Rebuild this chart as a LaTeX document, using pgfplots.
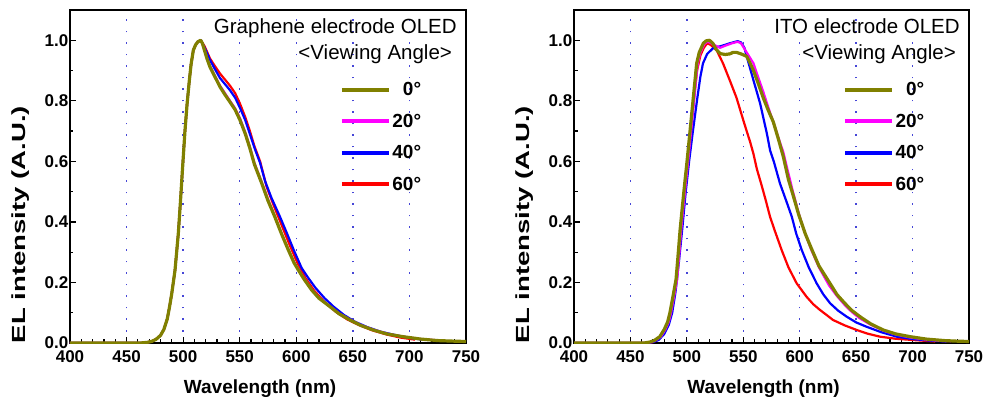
\documentclass[border=0pt]{standalone}
\usepackage{pgfplots}
\pgfplotsset{compat=1.18}
\usepackage{graphicx}
\usepackage{fontspec}
\setmainfont{Liberation Sans}

\definecolor{cOlive}{RGB}{128,128,0}
\definecolor{cMag}{RGB}{255,0,255}
\definecolor{cBlue}{RGB}{0,0,255}
\definecolor{cRed}{RGB}{255,0,0}
\definecolor{cGrid}{RGB}{70,70,215}

\pgfplotsset{
  elstyle/.style={
    scale only axis, height=333pt,
    xmin=400, xmax=750, ymin=0, ymax=1.1,
    xtick={400,450,500,550,600,650,700,750},
    ytick={0,0.2,0.4,0.6,0.8,1.0},
    minor x tick num=4, minor y tick num=1,
    tick align=inside, tick pos=left,
    major tick length=6pt, minor tick length=3.5pt,
    every tick/.style={black, line width=1.2pt},
    axis line style={black, line width=1.6pt},
    xmajorgrids=true,
    major x grid style={cGrid, line width=1.5pt, dash pattern=on 1.5pt off 10pt},
    /pgf/number format/assume math mode=true,
    ticklabel style={font=\fontsize{17}{20}\selectfont\bfseries},
    yticklabel style={inner xsep=1.5pt, /pgf/number format/fixed, /pgf/number format/fixed zerofill, /pgf/number format/precision=1},
    xticklabel style={yshift=-4.5pt},
    xlabel={Wavelength (nm)},
    xlabel style={at={(rel axis cs:0.48,0)}, anchor=base, yshift=-50pt, font=\fontsize{19}{22}\selectfont\bfseries},
    ylabel={\scalebox{1.45}[1]{EL intensity (A.U.)}},
    ylabel style={at={(rel axis cs:-0.126,0.356)}, anchor=center, font=\fontsize{19}{22}\selectfont\bfseries},
    legend image code/.code={\draw[#1] (0pt,0pt) -- (47pt,0pt);},
    legend style={draw=none, fill=none, at={(rel axis cs:0.891,0.787)}, anchor=north east,
      inner sep=0pt, row sep=13.7pt, font=\fontsize{19}{22}\selectfont\bfseries,
      nodes={inner sep=1.5pt}},
    legend cell align=right,
    every axis plot/.append style={line join=round},
  }
}

\begin{document}
\begin{tikzpicture}
\useasboundingbox (-70pt,-58pt) rectangle (917pt,343pt);

% ---------------- Graphene electrode OLED ----------------
\begin{axis}[elstyle, width=396pt, at={(0pt,0pt)}, anchor=south west]
\addlegendimage{cOlive, line width=4pt}\addlegendentry{0°}
\addlegendimage{cMag, line width=4pt}\addlegendentry{20°}
\addlegendimage{cBlue, line width=4pt}\addlegendentry{40°}
\addlegendimage{cRed, line width=4pt}\addlegendentry{60°}

% 60 deg
\addplot[cRed, line width=2.2pt, forget plot] coordinates {
(400,0) (462,0) (468,0.002) (472,0.005) (476,0.012) (480,0.025) (483,0.045) (486,0.08) (488,0.12)
(490,0.165) (492.8,0.24) (495.7,0.36) (497.5,0.46) (499,0.55) (501.6,0.70) (503.5,0.79) (505.5,0.868)
(507,0.92) (509,0.967) (511,0.985) (513,0.995) (515.5,1.0) (519,0.98) (523.7,0.94) (528,0.915)
(532.6,0.89) (537,0.87) (541.4,0.85) (546,0.825) (550.3,0.79) (555,0.745) (559,0.70) (563,0.65)
(568,0.60) (573.8,0.516) (580,0.455) (587,0.39) (594,0.325) (601,0.265) (608,0.215) (616,0.172)
(625,0.135) (635,0.103) (645,0.078) (655,0.06) (667,0.042) (680,0.028) (692,0.018) (705,0.011)};
% 40 deg
\addplot[cBlue, line width=2.2pt, forget plot] coordinates {
(400,0) (462,0) (468,0.002) (472,0.005) (476,0.012) (480,0.025) (483,0.045) (486,0.08) (488,0.12)
(490,0.165) (492.8,0.24) (495.7,0.36) (497.5,0.46) (499,0.55) (501.6,0.70) (503.5,0.79) (505.5,0.868)
(507,0.92) (509,0.967) (511,0.985) (513,0.995) (515.5,1.0) (519,0.975) (523.7,0.935) (528,0.905)
(532.6,0.875) (537,0.855) (541.4,0.835) (546,0.81) (550.3,0.776) (555,0.735) (559,0.69) (563,0.645)
(568,0.595) (572.4,0.535) (578,0.48) (585.6,0.417) (592,0.36) (598,0.305) (604.7,0.248) (610,0.218)
(617,0.182) (625,0.148) (633,0.12) (642,0.093) (652,0.07) (663,0.052) (675,0.037) (690,0.024)
(702,0.016) (712,0.011)};
% 20 deg
\addplot[cMag, line width=2.2pt, forget plot] coordinates {
(400,0) (462,0) (468,0.002) (472,0.005) (476,0.012) (480,0.025) (483,0.045) (486,0.08) (488,0.12)
(490,0.165) (492.8,0.24) (495.7,0.36) (497.5,0.46) (499,0.55) (501.6,0.70) (503.5,0.79) (505.5,0.868)
(507,0.92) (509,0.967) (511,0.985) (513,0.995) (515.5,1.0) (517,0.99) (519,0.967) (521,0.943)
(523.7,0.915) (528,0.883) (532.6,0.85) (537,0.825) (541.4,0.80) (546,0.775) (550.3,0.742) (555,0.695)
(559,0.648) (563,0.595) (569.4,0.532) (575,0.475) (581,0.42) (587,0.362) (593,0.31) (598,0.268)
(601.8,0.244) (607,0.213) (613.6,0.177) (620,0.15) (629.8,0.121) (638,0.097) (647.5,0.077)
(657,0.059) (668,0.044) (680,0.031) (694,0.021) (710,0.013) (728,0.008)};
% 0 deg
\addplot[cOlive, line width=3.2pt, forget plot] coordinates {
(400,0) (462,0) (468,0.002) (472,0.005) (476,0.012) (480,0.025) (483,0.045) (486,0.08) (488,0.12)
(490,0.165) (492.8,0.24) (495.7,0.36) (497.5,0.46) (499,0.55) (501.6,0.70) (503.5,0.79) (505.5,0.868)
(507,0.92) (509,0.967) (511,0.985) (513,0.995) (515.5,1.0) (517,0.99) (519,0.965) (521,0.94)
(523.7,0.912) (528,0.88) (532.6,0.846) (537,0.82) (541.4,0.796) (546,0.77) (550.3,0.736) (555,0.69)
(559,0.643) (563,0.59) (569.4,0.528) (575,0.47) (581,0.417) (587,0.36) (593,0.307) (598,0.265)
(601.8,0.241) (607,0.21) (613.6,0.175) (620,0.148) (629.8,0.12) (638,0.096) (647.5,0.076)
(657,0.058) (668,0.043) (680,0.03) (694,0.021) (710,0.013) (725,0.008) (740,0.006) (750,0.005)};

\node[anchor=base east, inner sep=0pt, font=\fontsize{20.5}{24}\selectfont] at (rel axis cs:0.977,0.930) {Graphene electrode OLED};
\node[anchor=base east, inner sep=0pt, font=\fontsize{20.5}{24}\selectfont] at (rel axis cs:0.965,0.850) {<Viewing Angle>};
\end{axis}

% ---------------- ITO electrode OLED ----------------
\begin{axis}[elstyle, width=395pt, at={(504pt,0pt)}, anchor=south west]
\addlegendimage{cOlive, line width=4pt}\addlegendentry{0°}
\addlegendimage{cMag, line width=4pt}\addlegendentry{20°}
\addlegendimage{cBlue, line width=4pt}\addlegendentry{40°}
\addlegendimage{cRed, line width=4pt}\addlegendentry{60°}

% 60 deg
\addplot[cRed, line width=2.2pt, forget plot] coordinates {
(400,0) (466,0) (470,0.003) (475,0.012) (480,0.035) (483,0.06) (486,0.1) (489,0.16) (491,0.22)
(493,0.3) (495,0.38) (498,0.5) (500,0.58) (503,0.69) (506,0.8) (509,0.9) (512,0.95) (515,0.975)
(518,0.99) (521,0.985) (526.4,0.967) (532,0.924) (538,0.868) (544,0.81) (550,0.736) (553,0.70)
(556,0.665) (559,0.625) (562,0.575) (566.3,0.52) (570,0.47) (573.7,0.417) (578,0.37) (584,0.307)
(590,0.25) (597.3,0.197) (606,0.153) (612,0.128) (618,0.109) (624,0.092) (629.5,0.076) (640,0.058)
(650.5,0.043) (660,0.031) (671,0.021) (685,0.014) (700,0.01) (712,0.007) (720,0.005)};
% 40 deg
\addplot[cBlue, line width=2.2pt, forget plot] coordinates {
(400,0) (465,0) (470,0.003) (475,0.01) (480,0.03) (484,0.06) (487,0.1) (490,0.17) (493,0.27)
(496,0.38) (499,0.5) (502,0.6) (505,0.69) (509.3,0.81) (512,0.88) (514.3,0.924) (518,0.955)
(523.6,0.975) (529.4,0.98) (534,0.985) (538,0.99) (542,0.994) (545,0.997) (548,0.993) (551,0.975) (554,0.934)
(559,0.868) (565,0.79) (571,0.69) (573.7,0.637) (577,0.60) (582.5,0.527) (588,0.47) (593,0.417)
(597,0.36) (601.8,0.307) (608,0.25) (615,0.197) (621,0.16) (627,0.131) (634,0.107) (641.6,0.087)
(650,0.068) (659,0.054) (672,0.036) (686,0.021) (700,0.013) (715,0.008) (730,0.005)};
% 20 deg
\addplot[cMag, line width=2.2pt, forget plot] coordinates {
(400,0) (463,0) (468,0.003) (472,0.008) (477,0.021) (481,0.045) (484,0.07) (486,0.1) (489,0.16)
(491.4,0.21) (493,0.28) (495,0.373) (497,0.45) (499.4,0.538) (501,0.594) (503.8,0.70) (506.7,0.81)
(509.7,0.924) (512,0.96) (515.6,0.988) (518,0.995) (520,0.993) (524,0.985) (529.4,0.975) (534,0.982)
(540,0.99) (545,0.995) (548,0.99) (553,0.96) (559,0.924) (563,0.88) (567.7,0.83) (572,0.78)
(576.6,0.73) (581,0.68) (585.5,0.63) (590,0.56) (594,0.50) (599,0.43) (604,0.37) (610,0.31)
(617,0.25) (626,0.19) (633,0.155) (640,0.125) (646,0.103) (653,0.082) (663,0.06) (674,0.041)
(685,0.028) (698,0.018) (712,0.011) (725,0.007) (734,0.006)};
% 0 deg
\addplot[cOlive, line width=3.2pt, forget plot] coordinates {
(400,0) (462,0) (467,0.003) (471,0.008) (476,0.021) (480,0.045) (483,0.07) (485,0.1) (488,0.16)
(490.4,0.21) (492,0.28) (494,0.373) (496,0.45) (498.4,0.538) (500,0.594) (502.8,0.70) (505.7,0.81)
(508.7,0.924) (511,0.96) (514.6,0.99) (517,0.998) (520,1.0) (523,0.99) (526,0.97) (529.4,0.956)
(534,0.953) (538,0.955) (541,0.96) (544,0.96) (548,0.955) (553,0.947) (556,0.925) (559,0.90)
(563,0.86) (567.7,0.81) (572,0.77) (576.6,0.73) (581,0.675) (585.5,0.615) (590,0.54) (594,0.49)
(599,0.425) (605,0.36) (610.6,0.31) (617,0.255) (626.8,0.197) (633,0.16) (640,0.131) (646,0.108)
(653.4,0.087) (663,0.063) (674,0.043) (685,0.03) (697.7,0.021) (712,0.013) (728,0.008) (740,0.006)
(750,0.005)};

\node[anchor=base east, inner sep=0pt, font=\fontsize{20.5}{24}\selectfont] at (rel axis cs:0.977,0.930) {ITO electrode OLED};
\node[anchor=base east, inner sep=0pt, font=\fontsize{20.5}{24}\selectfont] at (rel axis cs:0.967,0.850) {<Viewing Angle>};
\end{axis}
\end{tikzpicture}
\end{document}
